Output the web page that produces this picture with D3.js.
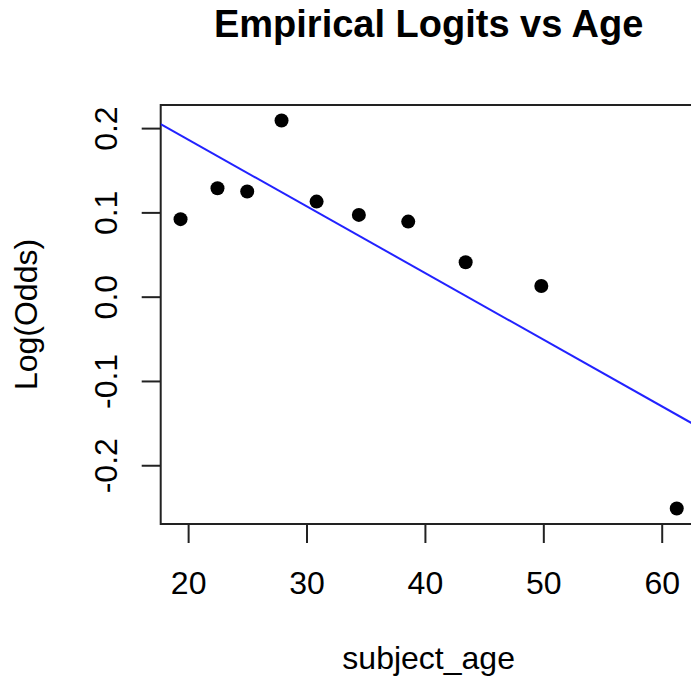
<!DOCTYPE html>
<html>
<head>
<meta charset="utf-8">
<script src="https://cdn.jsdelivr.net/npm/d3@7"></script>
<style>
  body { margin: 0; background: #fff; }
  text { font-family: "Liberation Sans", Arial, sans-serif; fill: #000; }
</style>
</head>
<body>
<div id="chart"></div>
<script>
// data
var ages = [19.36, 22.48, 24.99, 27.89, 30.85, 34.42, 38.59, 43.44, 49.83, 61.27]
var logOdds = [0.092, 0.1287, 0.1247, 0.209, 0.1128, 0.097, 0.0891, 0.0409, 0.0127, -0.2513]
var xTicks = [20, 30, 40, 50, 60]
var yTicks = [-0.2, -0.1, 0.0, 0.1, 0.2]
// fitted line (abline)
var fitIntercept = 0.3446
var fitSlope = -0.00791

var width = 691
var height = 679
var plot = { left: 160.7, right: 696.6, top: 105, bottom: 524 }

var svg = d3.select('#chart')
  .append('svg')
  .attr('width', width)
  .attr('height', height)

// R style 4% padding
function padded(ext) {
  var d = (ext[1] - ext[0]) * 0.04
  return [ext[0] - d, ext[1] + d]
}

var x = d3.scaleLinear()
  .domain(padded(d3.extent(ages)))
  .range([plot.left, plot.right])

var y = d3.scaleLinear()
  .domain(padded(d3.extent(logOdds)))
  .range([plot.bottom, plot.top])

svg.append('defs').append('clipPath')
  .attr('id', 'clip')
  .append('rect')
  .attr('x', plot.left)
  .attr('y', plot.top)
  .attr('width', plot.right - plot.left)
  .attr('height', plot.bottom - plot.top)

// x axis
var xAxis = d3.axisBottom(x)
  .tickValues(xTicks)
  .tickSize(19)
  .tickPadding(28)
  .tickFormat(d3.format('d'))

var gx = svg.append('g')
  .attr('class', 'axis x-axis')
  .attr('transform', 'translate(0,' + plot.bottom + ')')
  .call(xAxis)
gx.select('.domain').remove()
gx.selectAll('line').attr('stroke', '#222').attr('stroke-width', 2)
gx.selectAll('text')
  .style('font-size', '32px')
  .style('font-family', '"Liberation Sans", Arial, sans-serif')

// y axis, labels rotated like R, plain hyphen for minus
var yAxis = d3.axisLeft(y)
  .tickValues(yTicks)
  .tickSize(19)
  .tickFormat(function(d) { return d.toFixed(1) })

var gy = svg.append('g')
  .attr('class', 'axis y-axis')
  .attr('transform', 'translate(' + plot.left + ',0)')
  .call(yAxis)
gy.select('.domain').remove()
gy.selectAll('line').attr('stroke', '#222').attr('stroke-width', 2)
gy.selectAll('text')
  .attr('x', null)
  .attr('dy', null)
  .attr('text-anchor', 'middle')
  .attr('transform', 'translate(' + (117 - plot.left) + ',0) rotate(-90)')
  .style('font-size', '32px')
  .style('font-family', '"Liberation Sans", Arial, sans-serif')

// box
svg.append('rect')
  .attr('x', plot.left)
  .attr('y', plot.top)
  .attr('width', plot.right - plot.left)
  .attr('height', plot.bottom - plot.top)
  .attr('fill', 'none')
  .attr('stroke', '#222')
  .attr('stroke-width', 2)

// fitted line
var xd = x.domain()
svg.append('line')
  .attr('clip-path', 'url(#clip)')
  .attr('x1', x(xd[0]))
  .attr('y1', y(fitIntercept + fitSlope * xd[0]))
  .attr('x2', x(xd[1]))
  .attr('y2', y(fitIntercept + fitSlope * xd[1]))
  .attr('stroke', '#2222ff')
  .attr('stroke-width', 2)

// points
svg.selectAll('.dot')
  .data(ages)
  .enter()
  .append('circle')
  .attr('class', 'dot')
  .attr('cx', function(d) { return x(d) })
  .attr('cy', function(d, i) { return y(logOdds[i]) })
  .attr('r', 7)
  .attr('fill', '#000')

// titles
var cx = (plot.left + plot.right) / 2
svg.append('text')
  .attr('x', cx)
  .attr('y', 37)
  .attr('text-anchor', 'middle')
  .style('font-size', '38px')
  .style('font-weight', 'bold')
  .text('Empirical Logits vs Age')

svg.append('text')
  .attr('x', cx)
  .attr('y', 669)
  .attr('text-anchor', 'middle')
  .style('font-size', '32px')
  .text('subject_age')

svg.append('text')
  .attr('transform', 'translate(37,' + ((plot.top + plot.bottom) / 2) + ') rotate(-90)')
  .attr('text-anchor', 'middle')
  .style('font-size', '32px')
  .text('Log(Odds)')
</script>
</body>
</html>
